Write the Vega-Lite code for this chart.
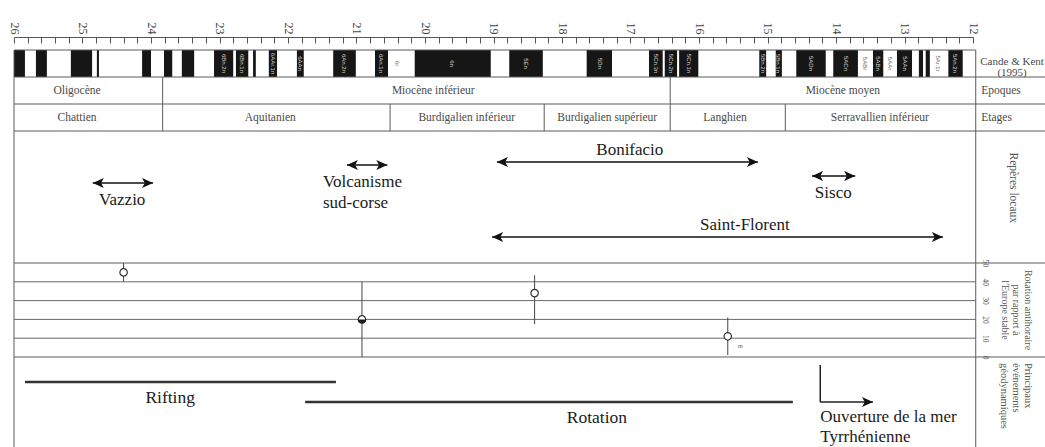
{
  "$schema": "https://vega.github.io/schema/vega-lite/v6.json",
  "width": 1045,
  "height": 447,
  "autosize": {"type": "none"},
  "padding": 0,
  "background": "#ffffff",
  "config": {
    "view": {"stroke": null},
    "font": "Liberation Serif",
    "text": {"font": "Liberation Serif"},
    "axisX": {"labelAngle": 90, "labelAlign": "right", "labelBaseline": "middle"}
  },
  "datasets": {
    "chrons": [
      {"ma": 26.0, "ma2": 25.84}, {"ma": 25.68, "ma2": 25.52}, {"ma": 25.17, "ma2": 24.86},
      {"ma": 24.79, "ma2": 24.76}, {"ma": 24.13, "ma2": 24.0}, {"ma": 23.81, "ma2": 23.69},
      {"ma": 23.55, "ma2": 23.37}, {"ma": 23.08, "ma2": 22.8}, {"ma": 22.76, "ma2": 22.58},
      {"ma": 22.51, "ma2": 22.47}, {"ma": 22.28, "ma2": 22.16}, {"ma": 21.87, "ma2": 21.77},
      {"ma": 21.34, "ma2": 21.01}, {"ma": 20.73, "ma2": 20.54}, {"ma": 20.15, "ma2": 19.04},
      {"ma": 18.77, "ma2": 18.28}, {"ma": 17.64, "ma2": 17.27}, {"ma": 16.73, "ma2": 16.53},
      {"ma": 16.5, "ma2": 16.32}, {"ma": 16.29, "ma2": 16.01}, {"ma": 15.12, "ma2": 15.02},
      {"ma": 14.88, "ma2": 14.79}, {"ma": 14.58, "ma2": 14.15}, {"ma": 14.04, "ma2": 13.68},
      {"ma": 13.46, "ma2": 13.31}, {"ma": 13.11, "ma2": 12.89}, {"ma": 12.79, "ma2": 12.73},
      {"ma": 12.69, "ma2": 12.63}, {"ma": 12.36, "ma2": 12.15}
    ],
    "noms_chrons": [
      {"ma": 22.94, "nom": "6Bn.2n", "polarite": "normale"},
      {"ma": 22.67, "nom": "6Bn.1n", "polarite": "normale"},
      {"ma": 22.22, "nom": "6AAr.1n", "polarite": "normale"},
      {"ma": 21.82, "nom": "6AAn", "polarite": "normale"},
      {"ma": 21.18, "nom": "6An.2n", "polarite": "normale"},
      {"ma": 20.64, "nom": "6An.1n", "polarite": "normale"},
      {"ma": 20.41, "nom": "6r", "polarite": "inverse"},
      {"ma": 19.6, "nom": "6n", "polarite": "normale"},
      {"ma": 18.53, "nom": "5En", "polarite": "normale"},
      {"ma": 17.45, "nom": "5Dn", "polarite": "normale"},
      {"ma": 16.63, "nom": "5Cn.3n", "polarite": "normale"},
      {"ma": 16.41, "nom": "5Cn.2n", "polarite": "normale"},
      {"ma": 16.15, "nom": "5Cn.1n", "polarite": "normale"},
      {"ma": 15.07, "nom": "5Bn.2n", "polarite": "normale"},
      {"ma": 14.84, "nom": "5Bn.1n", "polarite": "normale"},
      {"ma": 14.37, "nom": "5ADn", "polarite": "normale"},
      {"ma": 13.86, "nom": "5ACn", "polarite": "normale"},
      {"ma": 13.57, "nom": "5ABr", "polarite": "inverse"},
      {"ma": 13.39, "nom": "5ABn", "polarite": "normale"},
      {"ma": 13.21, "nom": "5AAr", "polarite": "inverse"},
      {"ma": 13.0, "nom": "5AAn", "polarite": "normale"},
      {"ma": 12.51, "nom": "5Ar.1r", "polarite": "inverse"},
      {"ma": 12.26, "nom": "5An.2n", "polarite": "normale"}
    ],
    "epoques": [
      {"ma": 25.08, "nom": "Oligocène"},
      {"ma": 19.88, "nom": "Miocène inférieur"},
      {"ma": 13.9, "nom": "Miocène moyen"}
    ],
    "etages": [
      {"ma": 25.08, "nom": "Chattien"},
      {"ma": 22.26, "nom": "Aquitanien"},
      {"ma": 19.39, "nom": "Burdigalien inférieur"},
      {"ma": 17.34, "nom": "Burdigalien supérieur"},
      {"ma": 15.62, "nom": "Langhien"},
      {"ma": 13.36, "nom": "Serravallien inférieur"}
    ],
    "limites": [
      {"ma": 23.83, "l": 1, "l2": 3},
      {"ma": 16.42, "l": 1, "l2": 3},
      {"ma": 20.51, "l": 2, "l2": 3},
      {"ma": 18.26, "l": 2, "l2": 3},
      {"ma": 14.74, "l": 2, "l2": 3}
    ],
    "lignes_tableau": [
      {"ma": 26, "ma2": 11.96, "l": 0},
      {"ma": 26, "ma2": 10.9, "l": 1},
      {"ma": 26, "ma2": 10.9, "l": 2},
      {"ma": 26, "ma2": 10.9, "l": 3}
    ],
    "cadre": [{"ma": 26}, {"ma": 11.96}],
    "colonne_tableau": [
      {"ma": 11.88, "l": 1.5, "texte": "Epoques"},
      {"ma": 11.88, "l": 2.5, "texte": "Etages"}
    ],
    "source": [{"ma": 11.43, "l": 0.5, "texte": "Cande & Kent\n(1995)"}],
    "reperes": [
      {"nom": "Vazzio", "ma": 24.85, "ma2": 23.97, "h": 39.4},
      {"nom": "Volcanisme sud-corse", "ma": 21.14, "ma2": 20.55, "h": 25.8},
      {"nom": "Bonifacio", "ma": 18.95, "ma2": 15.14, "h": 23.5},
      {"nom": "Sisco", "ma": 14.35, "ma2": 13.72, "h": 34.1},
      {"nom": "Saint-Florent", "ma": 19.02, "ma2": 12.44, "h": 80.3}
    ],
    "etiquettes_reperes": [
      {"texte": "Vazzio", "ma": 24.42, "h": 39.4, "place": "dessous"},
      {"texte": "Volcanisme\nsud-corse", "ma": 21.49, "h": 25.8, "place": "dessous_gauche"},
      {"texte": "Bonifacio", "ma": 17.01, "h": 23.5, "place": "dessus"},
      {"texte": "Sisco", "ma": 14.04, "h": 34.1, "place": "dessous"},
      {"texte": "Saint-Florent", "ma": 15.33, "h": 80.3, "place": "dessus"}
    ],
    "titre_reperes": [{"texte": "Repères locaux", "ma": 11.42, "h": 43}],
    "grille_rotation": [
      {"deg": 10, "ma": 26, "ma2": 11.96},
      {"deg": 20, "ma": 26, "ma2": 11.96},
      {"deg": 30, "ma": 26, "ma2": 11.96},
      {"deg": 40, "ma": 26, "ma2": 11.96}
    ],
    "bords_rotation": [
      {"deg": 0, "ma": 26, "ma2": 10.9},
      {"deg": 50, "ma": 26, "ma2": 10.9}
    ],
    "rotations": [
      {"ma": 24.4, "deg": 45, "min": 40, "max": 50, "remplissage": "vide"},
      {"ma": 20.92, "deg": 20, "min": 0, "max": 40, "remplissage": "demi"},
      {"ma": 18.4, "deg": 34, "min": 17.5, "max": 43.5, "remplissage": "vide"},
      {"ma": 15.58, "deg": 11, "min": 1, "max": 21, "remplissage": "vide"}
    ],
    "note_rotation": [{"ma": 15.43, "deg": 6, "texte": "m"}],
    "titre_rotation": [{"ma": 11.2, "deg": 25, "texte": "Rotation antihoraire\npar rapport à\nl'Europe stable"}],
    "evenements": [
      {"nom": "Rifting", "ma": 25.84, "ma2": 21.3, "h": 27.8},
      {"nom": "Rotation", "ma": 21.75, "ma2": 14.63, "h": 50}
    ],
    "etiquettes_evenements": [
      {"texte": "Rifting", "ma": 23.72, "h": 27.8},
      {"texte": "Rotation", "ma": 17.49, "h": 50}
    ],
    "ouverture": [{"ma": 14.23, "ma2": 13.46, "h": 8.9, "h2": 50, "texte": "Ouverture de la mer\nTyrrhénienne"}],
    "titre_evenements": [{"ma": 11.2, "h": 6.7, "texte": "Principaux\névénements\ngéodynamiques"}]
  },
  "encoding": {
    "x": {
      "field": "ma",
      "type": "quantitative",
      "scale": {"domain": [26, 12], "range": [14, 973], "nice": false, "zero": false},
      "axis": {
        "orient": "top",
        "offset": -37,
        "values": [26,25.8,25.6,25.4,25.2,25,24.8,24.6,24.4,24.2,24,23.8,23.6,23.4,23.2,23,22.8,22.6,22.4,22.2,22,21.8,21.6,21.4,21.2,21,20.8,20.6,20.4,20.2,20,19.8,19.6,19.4,19.2,19,18.8,18.6,18.4,18.2,18,17.8,17.6,17.4,17.2,17,16.8,16.6,16.4,16.2,16,15.8,15.6,15.4,15.2,15,14.8,14.6,14.4,14.2,14,13.8,13.6,13.4,13.2,13,12.8,12.6,12.4,12.2,12],
        "labelExpr": "abs(datum.value - round(datum.value)) < 0.01 ? format(datum.value, 'd') : ''",
        "labelAngle": 90,
        "labelAlign": "right",
        "labelBaseline": "middle",
        "labelFont": "Liberation Serif",
        "labelFontSize": 12,
        "labelColor": "#444444",
        "labelPadding": 9,
        "labelFlush": false,
        "labelOverlap": false,
        "tickSize": -6,
        "tickColor": "#555555",
        "domainColor": "#555555",
        "grid": false,
        "title": null
      }
    }
  },
  "resolve": {"scale": {"y": "independent"}},
  "layer": [
    {
      "data": {"name": "chrons"},
      "mark": {"type": "rect", "fill": "#161616"},
      "encoding": {
        "x2": {"field": "ma2"},
        "y": {"datum": 0, "type": "quantitative", "scale": {"domain": [0, 3], "range": [50, 131], "nice": false, "zero": false}, "axis": null},
        "y2": {"datum": 1}
      }
    },
    {
      "data": {"name": "noms_chrons"},
      "transform": [{"filter": "datum.polarite === 'normale'"}],
      "mark": {"type": "text", "angle": 90, "align": "center", "baseline": "middle", "fontSize": 6, "fill": "#d4d4d4", "font": "Liberation Sans"},
      "encoding": {
        "y": {"datum": 0.5, "type": "quantitative", "scale": {"domain": [0, 3], "range": [50, 131], "nice": false, "zero": false}, "axis": null},
        "text": {"field": "nom"}
      }
    },
    {
      "data": {"name": "noms_chrons"},
      "transform": [{"filter": "datum.polarite === 'inverse'"}],
      "mark": {"type": "text", "angle": 90, "align": "center", "baseline": "middle", "fontSize": 6, "fill": "#666666", "font": "Liberation Sans"},
      "encoding": {
        "y": {"datum": 0.5, "type": "quantitative", "scale": {"domain": [0, 3], "range": [50, 131], "nice": false, "zero": false}, "axis": null},
        "text": {"field": "nom"}
      }
    },
    {
      "data": {"name": "lignes_tableau"},
      "mark": {"type": "rule", "stroke": "#5a5a5a", "strokeWidth": 1},
      "encoding": {
        "x2": {"field": "ma2"},
        "y": {"field": "l", "type": "quantitative", "scale": {"domain": [0, 3], "range": [50, 131], "nice": false, "zero": false}, "axis": null}
      }
    },
    {
      "data": {"name": "limites"},
      "mark": {"type": "rule", "stroke": "#5a5a5a", "strokeWidth": 1},
      "encoding": {
        "y": {"field": "l", "type": "quantitative", "scale": {"domain": [0, 3], "range": [50, 131], "nice": false, "zero": false}, "axis": null},
        "y2": {"field": "l2"}
      }
    },
    {
      "data": {"name": "cadre"},
      "mark": {"type": "rule", "stroke": "#5a5a5a", "strokeWidth": 1},
      "encoding": {
        "y": {"datum": 0, "type": "quantitative", "scale": {"domain": [0, 1], "range": [50, 447], "nice": false, "zero": false}, "axis": null},
        "y2": {"datum": 1}
      }
    },
    {
      "data": {"name": "epoques"},
      "mark": {"type": "text", "align": "center", "baseline": "middle", "fontSize": 11.5, "fill": "#4a4a4a", "font": "Liberation Serif"},
      "encoding": {
        "y": {"datum": 1.5, "type": "quantitative", "scale": {"domain": [0, 3], "range": [50, 131], "nice": false, "zero": false}, "axis": null},
        "text": {"field": "nom"}
      }
    },
    {
      "data": {"name": "etages"},
      "mark": {"type": "text", "align": "center", "baseline": "middle", "fontSize": 11.5, "fill": "#4a4a4a", "font": "Liberation Serif"},
      "encoding": {
        "y": {"datum": 2.5, "type": "quantitative", "scale": {"domain": [0, 3], "range": [50, 131], "nice": false, "zero": false}, "axis": null},
        "text": {"field": "nom"}
      }
    },
    {
      "data": {"name": "colonne_tableau"},
      "mark": {"type": "text", "align": "left", "baseline": "middle", "fontSize": 11.5, "fill": "#4a4a4a", "font": "Liberation Serif"},
      "encoding": {
        "y": {"field": "l", "type": "quantitative", "scale": {"domain": [0, 3], "range": [50, 131], "nice": false, "zero": false}, "axis": null},
        "text": {"field": "texte"}
      }
    },
    {
      "data": {"name": "source"},
      "mark": {"type": "text", "align": "center", "baseline": "middle", "fontSize": 11, "fill": "#4a4a4a", "font": "Liberation Serif", "lineBreak": "\n", "lineHeight": 11, "dy": -2},
      "encoding": {
        "y": {"field": "l", "type": "quantitative", "scale": {"domain": [0, 3], "range": [50, 131], "nice": false, "zero": false}, "axis": null},
        "text": {"field": "texte"}
      }
    },
    {
      "data": {"name": "reperes"},
      "mark": {"type": "rule", "stroke": "#111111", "strokeWidth": 1.6},
      "encoding": {
        "x2": {"field": "ma2"},
        "y": {"field": "h", "type": "quantitative", "scale": {"domain": [0, 100], "range": [131, 263], "nice": false, "zero": false}, "axis": null}
      }
    },
    {
      "data": {"name": "reperes"},
      "mark": {"type": "point", "shape": "M0,0L2,-0.9L1.5,0L2,0.9Z", "filled": true, "fill": "#111111", "strokeWidth": 0, "size": 121, "opacity": 1},
      "encoding": {
        "y": {"field": "h", "type": "quantitative", "scale": {"domain": [0, 100], "range": [131, 263], "nice": false, "zero": false}, "axis": null}
      }
    },
    {
      "data": {"name": "reperes"},
      "mark": {"type": "point", "shape": "M0,0L-2,-0.9L-1.5,0L-2,0.9Z", "filled": true, "fill": "#111111", "strokeWidth": 0, "size": 121, "opacity": 1},
      "encoding": {
        "x": {"field": "ma2", "type": "quantitative", "scale": {"domain": [26, 12], "range": [14, 973], "nice": false, "zero": false}},
        "y": {"field": "h", "type": "quantitative", "scale": {"domain": [0, 100], "range": [131, 263], "nice": false, "zero": false}, "axis": null}
      }
    },
    {
      "data": {"name": "etiquettes_reperes"},
      "transform": [{"filter": "datum.place === 'dessous'"}],
      "mark": {"type": "text", "align": "center", "baseline": "top", "dy": 9, "fontSize": 17, "fill": "#1a1a1a", "font": "Liberation Serif"},
      "encoding": {
        "y": {"field": "h", "type": "quantitative", "scale": {"domain": [0, 100], "range": [131, 263], "nice": false, "zero": false}, "axis": null},
        "text": {"field": "texte"}
      }
    },
    {
      "data": {"name": "etiquettes_reperes"},
      "transform": [{"filter": "datum.place === 'dessous_gauche'"}],
      "mark": {"type": "text", "align": "left", "baseline": "top", "dy": 9, "fontSize": 17, "fill": "#1a1a1a", "font": "Liberation Serif", "lineBreak": "\n", "lineHeight": 21},
      "encoding": {
        "y": {"field": "h", "type": "quantitative", "scale": {"domain": [0, 100], "range": [131, 263], "nice": false, "zero": false}, "axis": null},
        "text": {"field": "texte"}
      }
    },
    {
      "data": {"name": "etiquettes_reperes"},
      "transform": [{"filter": "datum.place === 'dessus'"}],
      "mark": {"type": "text", "align": "center", "baseline": "alphabetic", "dy": -7, "fontSize": 17, "fill": "#1a1a1a", "font": "Liberation Serif"},
      "encoding": {
        "y": {"field": "h", "type": "quantitative", "scale": {"domain": [0, 100], "range": [131, 263], "nice": false, "zero": false}, "axis": null},
        "text": {"field": "texte"}
      }
    },
    {
      "data": {"name": "titre_reperes"},
      "mark": {"type": "text", "angle": 90, "align": "center", "baseline": "middle", "fontSize": 11.5, "fill": "#555555", "font": "Liberation Serif"},
      "encoding": {
        "y": {"field": "h", "type": "quantitative", "scale": {"domain": [0, 100], "range": [131, 263], "nice": false, "zero": false}, "axis": null},
        "text": {"field": "texte"}
      }
    },
    {
      "data": {"name": "grille_rotation"},
      "mark": {"type": "rule", "stroke": "#6a6a6a", "strokeWidth": 1},
      "encoding": {
        "x2": {"field": "ma2"},
        "y": {"field": "deg", "type": "quantitative", "scale": {"domain": [0, 50], "range": [357, 263], "nice": false, "zero": false}, "axis": null}
      }
    },
    {
      "data": {"name": "bords_rotation"},
      "mark": {"type": "rule", "stroke": "#5a5a5a", "strokeWidth": 1},
      "encoding": {
        "x2": {"field": "ma2"},
        "y": {"field": "deg", "type": "quantitative", "scale": {"domain": [0, 50], "range": [357, 263], "nice": false, "zero": false}, "axis": null}
      }
    },
    {
      "data": {"name": "rotations"},
      "mark": {"type": "rule", "stroke": "#444444", "strokeWidth": 1},
      "encoding": {
        "y": {
          "field": "min",
          "type": "quantitative",
          "scale": {"domain": [0, 50], "range": [357, 263], "nice": false, "zero": false},
          "axis": {
            "orient": "right",
            "offset": -65,
            "values": [0, 10, 20, 30, 40, 50],
            "labelAngle": 90,
            "labelFlush": true,
            "domain": false,
            "ticks": false,
            "grid": false,
            "labelFont": "Liberation Serif",
            "labelFontSize": 7.5,
            "labelColor": "#555555",
            "labelPadding": 0,
            "title": null
          }
        },
        "y2": {"field": "max"}
      }
    },
    {
      "data": {"name": "rotations"},
      "mark": {"type": "point", "shape": "circle", "filled": true, "fill": "#ffffff", "stroke": "#333333", "strokeWidth": 1.2, "size": 55, "opacity": 1},
      "encoding": {
        "y": {"field": "deg", "type": "quantitative", "scale": {"domain": [0, 50], "range": [357, 263], "nice": false, "zero": false}, "axis": null}
      }
    },
    {
      "data": {"name": "rotations"},
      "transform": [{"filter": "datum.remplissage === 'demi'"}],
      "mark": {"type": "point", "shape": "M-1,0A1,1,0,0,0,1,0Z", "filled": true, "fill": "#1e1e1e", "strokeWidth": 0, "size": 70, "opacity": 1},
      "encoding": {
        "y": {"field": "deg", "type": "quantitative", "scale": {"domain": [0, 50], "range": [357, 263], "nice": false, "zero": false}, "axis": null}
      }
    },
    {
      "data": {"name": "note_rotation"},
      "mark": {"type": "text", "align": "left", "baseline": "middle", "fontSize": 6, "fill": "#666666", "font": "Liberation Serif"},
      "encoding": {
        "y": {"field": "deg", "type": "quantitative", "scale": {"domain": [0, 50], "range": [357, 263], "nice": false, "zero": false}, "axis": null},
        "text": {"field": "texte"}
      }
    },
    {
      "data": {"name": "titre_rotation"},
      "mark": {"type": "text", "angle": 90, "align": "center", "baseline": "middle", "fontSize": 10, "fill": "#555555", "font": "Liberation Serif", "lineBreak": "\n", "lineHeight": 11.5},
      "encoding": {
        "y": {"field": "deg", "type": "quantitative", "scale": {"domain": [0, 50], "range": [357, 263], "nice": false, "zero": false}, "axis": null},
        "text": {"field": "texte"}
      }
    },
    {
      "data": {"name": "evenements"},
      "mark": {"type": "rule", "stroke": "#333333", "strokeWidth": 2.4},
      "encoding": {
        "x2": {"field": "ma2"},
        "y": {"field": "h", "type": "quantitative", "scale": {"domain": [0, 100], "range": [357, 447], "nice": false, "zero": false}, "axis": null}
      }
    },
    {
      "data": {"name": "etiquettes_evenements"},
      "mark": {"type": "text", "align": "center", "baseline": "top", "dy": 7, "fontSize": 17.5, "fill": "#1a1a1a", "font": "Liberation Serif"},
      "encoding": {
        "y": {"field": "h", "type": "quantitative", "scale": {"domain": [0, 100], "range": [357, 447], "nice": false, "zero": false}, "axis": null},
        "text": {"field": "texte"}
      }
    },
    {
      "data": {"name": "ouverture"},
      "mark": {"type": "rule", "stroke": "#222222", "strokeWidth": 1.5},
      "encoding": {
        "y": {"field": "h", "type": "quantitative", "scale": {"domain": [0, 100], "range": [357, 447], "nice": false, "zero": false}, "axis": null},
        "y2": {"field": "h2"}
      }
    },
    {
      "data": {"name": "ouverture"},
      "mark": {"type": "rule", "stroke": "#222222", "strokeWidth": 1.5},
      "encoding": {
        "x2": {"field": "ma2"},
        "y": {"field": "h2", "type": "quantitative", "scale": {"domain": [0, 100], "range": [357, 447], "nice": false, "zero": false}, "axis": null}
      }
    },
    {
      "data": {"name": "ouverture"},
      "mark": {"type": "point", "shape": "M0,0L-2,-0.9L-1.5,0L-2,0.9Z", "filled": true, "fill": "#111111", "strokeWidth": 0, "size": 121, "opacity": 1},
      "encoding": {
        "x": {"field": "ma2", "type": "quantitative", "scale": {"domain": [26, 12], "range": [14, 973], "nice": false, "zero": false}},
        "y": {"field": "h2", "type": "quantitative", "scale": {"domain": [0, 100], "range": [357, 447], "nice": false, "zero": false}, "axis": null}
      }
    },
    {
      "data": {"name": "ouverture"},
      "mark": {"type": "text", "align": "left", "baseline": "top", "dy": 7, "fontSize": 17, "fill": "#1a1a1a", "font": "Liberation Serif", "lineBreak": "\n", "lineHeight": 20},
      "encoding": {
        "y": {"field": "h2", "type": "quantitative", "scale": {"domain": [0, 100], "range": [357, 447], "nice": false, "zero": false}, "axis": null},
        "text": {"field": "texte"}
      }
    },
    {
      "data": {"name": "titre_evenements"},
      "mark": {"type": "text", "angle": 90, "align": "left", "baseline": "middle", "fontSize": 10.5, "fill": "#555555", "font": "Liberation Serif", "lineBreak": "\n", "lineHeight": 12},
      "encoding": {
        "y": {"field": "h", "type": "quantitative", "scale": {"domain": [0, 100], "range": [357, 447], "nice": false, "zero": false}, "axis": null},
        "text": {"field": "texte"}
      }
    }
  ]
}
